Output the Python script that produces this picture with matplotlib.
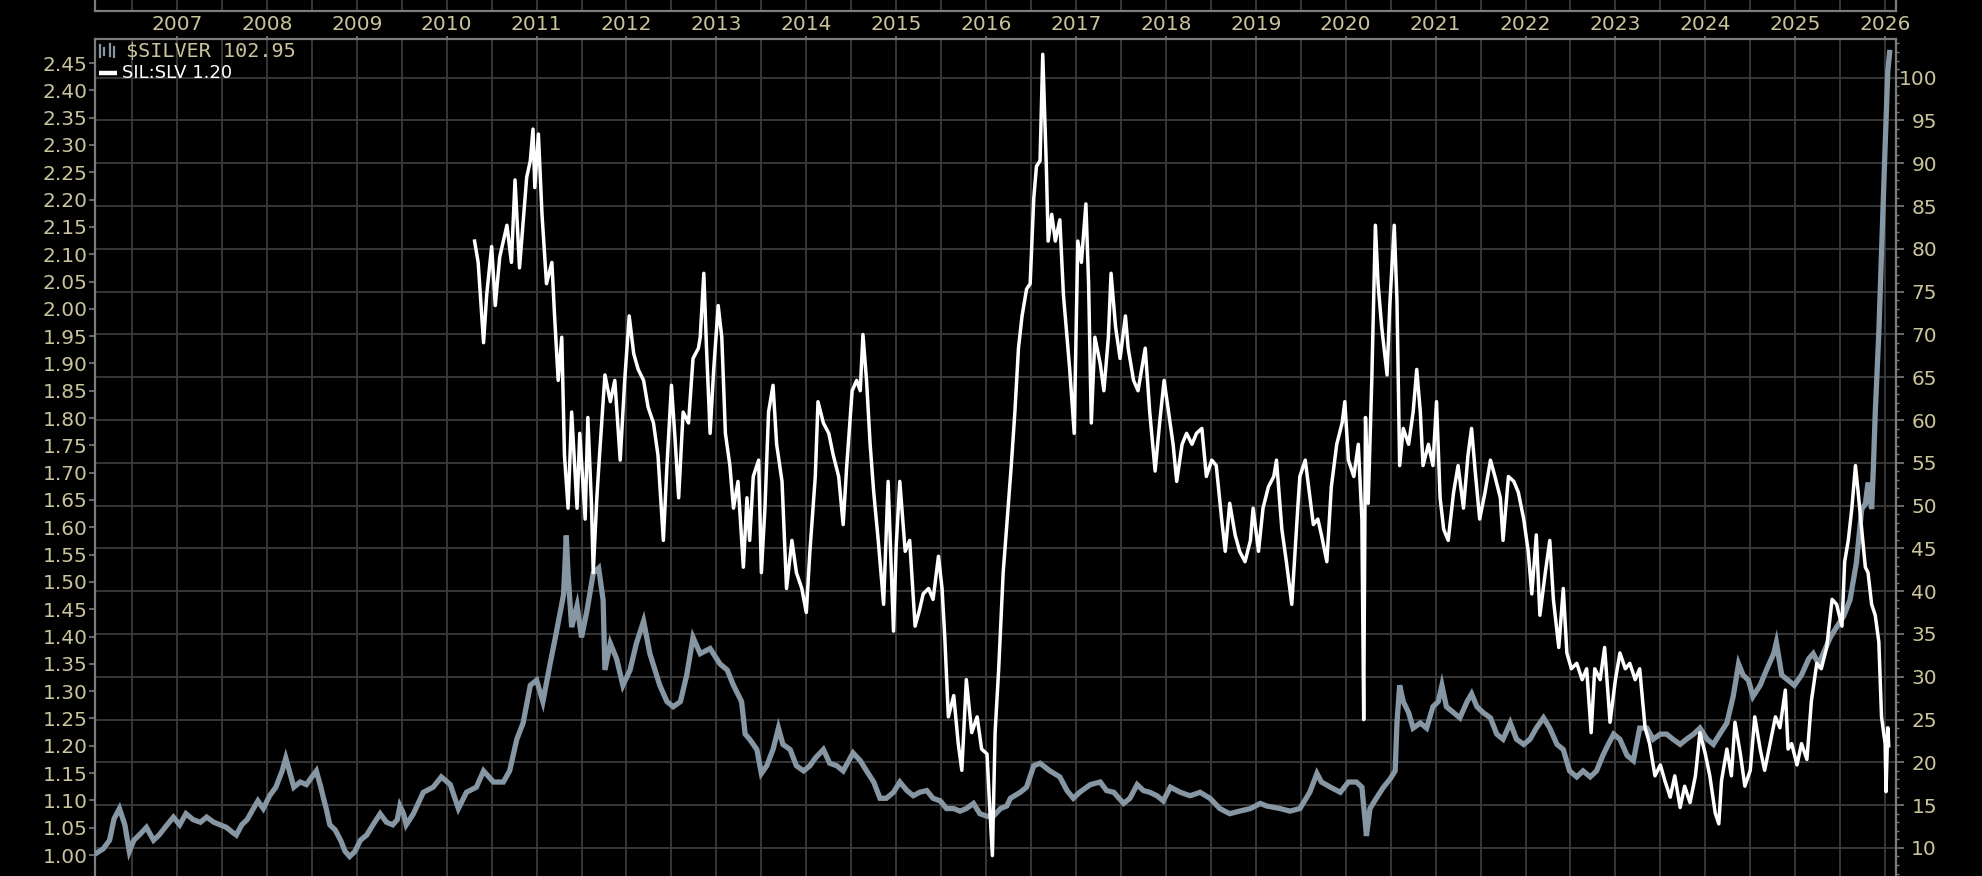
import matplotlib
matplotlib.use("Agg")
import matplotlib.pyplot as plt
from matplotlib.ticker import MultipleLocator
from matplotlib.lines import Line2D

# ---------------- data ----------------
silver_t = [2006.09, 2006.18, 2006.25, 2006.30, 2006.36, 2006.42, 2006.47, 2006.52, 2006.58, 2006.66,
            2006.74, 2006.80, 2006.89, 2006.96, 2007.03, 2007.10, 2007.18, 2007.26, 2007.33, 2007.41,
            2007.48, 2007.55, 2007.62, 2007.66, 2007.72, 2007.78, 2007.85, 2007.90, 2007.96, 2008.03,
            2008.10, 2008.17, 2008.21, 2008.25, 2008.30, 2008.37, 2008.44, 2008.50, 2008.55, 2008.60,
            2008.63, 2008.66, 2008.70, 2008.76, 2008.82, 2008.87, 2008.92, 2008.98, 2009.04, 2009.11,
            2009.18, 2009.26, 2009.33, 2009.40, 2009.45, 2009.48, 2009.52, 2009.55, 2009.63, 2009.74,
            2009.85, 2009.94, 2010.04, 2010.13, 2010.22, 2010.33, 2010.41, 2010.52, 2010.63, 2010.70,
            2010.78, 2010.85, 2010.93, 2011.00, 2011.07, 2011.15, 2011.22, 2011.30, 2011.33, 2011.35,
            2011.39, 2011.45, 2011.50, 2011.56, 2011.63, 2011.69, 2011.74, 2011.76, 2011.82, 2011.89,
            2011.96, 2012.04, 2012.11, 2012.19, 2012.26, 2012.37, 2012.45, 2012.52, 2012.60, 2012.67,
            2012.74, 2012.82, 2012.93, 2013.04, 2013.12, 2013.19, 2013.28, 2013.32, 2013.37, 2013.45,
            2013.50, 2013.56, 2013.63, 2013.69, 2013.74, 2013.82, 2013.89, 2013.97, 2014.04, 2014.10,
            2014.19, 2014.26, 2014.34, 2014.41, 2014.52, 2014.60, 2014.67, 2014.75, 2014.82, 2014.89,
            2014.97, 2015.04, 2015.12, 2015.19, 2015.26, 2015.34, 2015.41, 2015.49, 2015.56, 2015.64,
            2015.71, 2015.78, 2015.86, 2015.93, 2016.01, 2016.08, 2016.16, 2016.23, 2016.27, 2016.38,
            2016.45, 2016.53, 2016.60, 2016.71, 2016.82, 2016.90, 2016.97, 2017.04, 2017.16, 2017.27,
            2017.34, 2017.42, 2017.53, 2017.60, 2017.68, 2017.75, 2017.82, 2017.90, 2017.97, 2018.05,
            2018.16, 2018.27, 2018.38, 2018.49, 2018.60, 2018.71, 2018.82, 2018.94, 2019.05, 2019.12,
            2019.27, 2019.38, 2019.49, 2019.60, 2019.68, 2019.73, 2019.83, 2019.94, 2020.03, 2020.12,
            2020.18, 2020.22, 2020.23, 2020.27, 2020.34, 2020.42, 2020.49, 2020.55, 2020.57, 2020.60,
            2020.64, 2020.70, 2020.75, 2020.83, 2020.90, 2020.97, 2021.03, 2021.07, 2021.12, 2021.20,
            2021.27, 2021.35, 2021.40, 2021.46, 2021.53, 2021.61, 2021.68, 2021.75, 2021.83, 2021.90,
            2021.98, 2022.05, 2022.12, 2022.20, 2022.27, 2022.35, 2022.42, 2022.49, 2022.57, 2022.64,
            2022.72, 2022.79, 2022.86, 2022.92, 2022.98, 2023.05, 2023.13, 2023.20, 2023.27, 2023.35,
            2023.42, 2023.50, 2023.57, 2023.64, 2023.72, 2023.79, 2023.87, 2023.94, 2024.02, 2024.09,
            2024.16, 2024.24, 2024.31, 2024.37, 2024.42, 2024.48, 2024.53, 2024.61, 2024.68, 2024.76,
            2024.79, 2024.85, 2024.92, 2024.99, 2025.07, 2025.15, 2025.20, 2025.26, 2025.31, 2025.39,
            2025.46, 2025.54, 2025.61, 2025.68, 2025.74, 2025.78, 2025.81, 2025.85, 2025.87, 2025.89,
            2025.93, 2025.96, 2026.00, 2026.03, 2026.05]
silver_v = [9.3, 9.9, 10.9, 13.4, 14.6, 12.7, 9.6, 10.9, 11.5, 12.4,
            10.9, 11.5, 12.7, 13.6, 12.7, 14.0, 13.3, 13.0, 13.6, 13.0,
            12.7, 12.4, 11.8, 11.5, 12.7, 13.3, 14.6, 15.5, 14.6, 16.1,
            17.1, 19.0, 20.5, 19.0, 17.1, 17.7, 17.4, 18.3, 19.0, 17.1,
            15.8, 14.6, 12.7, 12.1, 10.9, 9.6, 9.0, 9.6, 10.9, 11.5,
            12.7, 14.0, 13.0, 12.7, 13.3, 14.9, 14.0, 12.7, 14.0, 16.5,
            17.1, 18.3, 17.4, 14.6, 16.5, 17.1, 19.0, 17.7, 17.7, 19.0,
            22.7, 24.6, 29.0, 29.6, 27.1, 31.5, 35.2, 39.6, 46.5, 42.0,
            35.8, 38.3, 34.6, 37.7, 42.1, 42.7, 39.0, 30.8, 33.9, 32.1,
            29.0, 30.8, 33.9, 36.5, 32.7, 29.0, 27.1, 26.5, 27.1, 30.2,
            34.6, 32.7, 33.3, 31.5, 30.8, 29.0, 27.1, 23.3, 22.7, 21.5,
            18.7, 19.6, 21.5, 24.0, 22.1, 21.5, 19.6, 19.0, 19.6, 20.5,
            21.5, 19.9, 19.6, 19.0, 21.1, 20.2, 19.0, 17.7, 15.8, 15.8,
            16.5, 17.7, 16.7, 16.1, 16.5, 16.7, 15.8, 15.5, 14.6, 14.6,
            14.3, 14.6, 15.2, 14.0, 13.7, 13.7, 14.6, 14.9, 15.8, 16.5,
            17.1, 19.6, 19.9, 19.0, 18.3, 16.7, 15.8, 16.5, 17.4, 17.7,
            16.7, 16.5, 15.2, 15.8, 17.4, 16.7, 16.5, 16.1, 15.5, 17.1,
            16.5, 16.1, 16.5, 15.8, 14.6, 14.0, 14.3, 14.6, 15.2, 14.9,
            14.6, 14.3, 14.6, 16.5, 18.7, 17.7, 17.1, 16.5, 17.7, 17.7,
            17.1, 12.7, 11.4, 14.6, 15.8, 17.1, 18.0, 19.0, 24.6, 29.0,
            27.1, 25.8, 24.0, 24.6, 24.0, 26.5, 27.1, 29.0, 26.5, 25.8,
            25.2, 27.1, 28.0, 26.5, 25.8, 25.2, 23.3, 22.7, 24.6, 22.7,
            22.1, 22.7, 24.0, 25.2, 24.0, 22.1, 21.5, 19.0, 18.3, 19.0,
            18.3, 19.0, 20.8, 22.1, 23.3, 22.7, 20.8, 20.2, 24.0, 24.0,
            22.7, 23.3, 23.3, 22.7, 22.1, 22.7, 23.3, 24.0, 22.7, 22.1,
            23.3, 24.6, 27.7, 31.5, 30.2, 29.6, 27.7, 29.0, 30.8, 32.7,
            34.0, 30.2, 29.6, 29.0, 30.2, 32.1, 32.7, 31.5, 32.7, 34.6,
            35.8, 37.1, 39.0, 43.3, 49.6, 50.2, 52.7, 49.6, 54.6, 60.8,
            70.2, 79.6, 92.0, 100.8, 102.95]

ratio_t = [2010.31, 2010.35, 2010.41, 2010.445, 2010.50, 2010.54, 2010.59, 2010.67, 2010.72, 2010.76,
           2010.81, 2010.89, 2010.93, 2010.96, 2010.98, 2011.02, 2011.06, 2011.11, 2011.17, 2011.20,
           2011.24, 2011.28, 2011.31, 2011.35, 2011.39, 2011.45, 2011.48, 2011.54, 2011.57, 2011.61,
           2011.63, 2011.67, 2011.70, 2011.76, 2011.82, 2011.87, 2011.93, 2011.98, 2012.03, 2012.08,
           2012.13, 2012.19, 2012.24, 2012.30, 2012.35, 2012.41, 2012.45, 2012.50, 2012.54, 2012.58,
           2012.63, 2012.69, 2012.74, 2012.80, 2012.82, 2012.86, 2012.89, 2012.93, 2012.97, 2013.02,
           2013.06, 2013.10, 2013.15, 2013.19, 2013.24, 2013.30, 2013.34, 2013.37, 2013.41, 2013.47,
           2013.50, 2013.54, 2013.58, 2013.63, 2013.67, 2013.73, 2013.78, 2013.84, 2013.89, 2013.95,
           2014.00, 2014.04, 2014.10, 2014.13, 2014.19, 2014.25, 2014.30, 2014.36, 2014.41, 2014.45,
           2014.51, 2014.56, 2014.60, 2014.63, 2014.67, 2014.71, 2014.75, 2014.80, 2014.86, 2014.91,
           2014.97, 2015.00, 2015.04, 2015.10, 2015.15, 2015.21, 2015.26, 2015.30, 2015.36, 2015.41,
           2015.47, 2015.51, 2015.54, 2015.58, 2015.64, 2015.69, 2015.73, 2015.78, 2015.84, 2015.90,
           2015.95, 2016.01, 2016.04, 2016.07, 2016.10, 2016.14, 2016.19, 2016.23, 2016.28, 2016.32,
           2016.36, 2016.40, 2016.45, 2016.49, 2016.53, 2016.56, 2016.60, 2016.63, 2016.67, 2016.69,
           2016.73, 2016.77, 2016.82, 2016.86, 2016.90, 2016.93, 2016.98, 2017.02, 2017.06, 2017.11,
           2017.14, 2017.17, 2017.21, 2017.27, 2017.31, 2017.36, 2017.39, 2017.44, 2017.49, 2017.55,
           2017.58, 2017.64, 2017.69, 2017.73, 2017.77, 2017.82, 2017.88, 2017.93, 2017.98, 2018.03,
           2018.08, 2018.12, 2018.18, 2018.23, 2018.29, 2018.34, 2018.40, 2018.45, 2018.51, 2018.56,
           2018.62, 2018.66, 2018.71, 2018.77, 2018.82, 2018.88, 2018.94, 2018.97, 2019.03, 2019.08,
           2019.14, 2019.20, 2019.23, 2019.29, 2019.34, 2019.40, 2019.44, 2019.47, 2019.49, 2019.55,
           2019.58, 2019.64, 2019.69, 2019.73, 2019.79, 2019.84, 2019.90, 2019.96, 2019.99, 2020.03,
           2020.09, 2020.14, 2020.18, 2020.20, 2020.22, 2020.25, 2020.29, 2020.33, 2020.36, 2020.40,
           2020.46, 2020.49, 2020.54, 2020.57, 2020.60, 2020.64, 2020.70, 2020.75, 2020.79, 2020.83,
           2020.86, 2020.92, 2020.97, 2021.01, 2021.05, 2021.09, 2021.14, 2021.20, 2021.25, 2021.31,
           2021.36, 2021.40, 2021.44, 2021.49, 2021.55, 2021.61, 2021.66, 2021.72, 2021.75, 2021.81,
           2021.87, 2021.92, 2021.98, 2022.03, 2022.07, 2022.12, 2022.16, 2022.22, 2022.27, 2022.31,
           2022.37, 2022.42, 2022.46, 2022.51, 2022.57, 2022.63, 2022.68, 2022.73, 2022.77, 2022.83,
           2022.88, 2022.94, 2023.00, 2023.05, 2023.11, 2023.16, 2023.22, 2023.27, 2023.33, 2023.38,
           2023.44, 2023.50, 2023.55, 2023.61, 2023.66, 2023.72, 2023.77, 2023.83, 2023.89, 2023.94,
           2024.00, 2024.05, 2024.11, 2024.15, 2024.18, 2024.24, 2024.29, 2024.33, 2024.39, 2024.44,
           2024.50, 2024.55, 2024.61, 2024.66, 2024.72, 2024.78, 2024.83, 2024.89, 2024.92, 2024.96,
           2025.02, 2025.07, 2025.13, 2025.18, 2025.24, 2025.29, 2025.35, 2025.41, 2025.46, 2025.52,
           2025.55, 2025.59, 2025.63, 2025.67, 2025.70, 2025.74, 2025.78, 2025.81, 2025.85, 2025.89,
           2025.93, 2025.96, 2026.00, 2026.01, 2026.03, 2026.04]
ratio_v = [2.124, 2.085, 1.938, 2.026, 2.114, 2.006, 2.095, 2.153, 2.085, 2.236,
           2.075, 2.241, 2.271, 2.329, 2.222, 2.320, 2.173, 2.046, 2.085, 1.987,
           1.869, 1.948, 1.732, 1.635, 1.811, 1.635, 1.772, 1.615, 1.801, 1.644,
           1.517, 1.654, 1.732, 1.879, 1.830, 1.869, 1.723, 1.869, 1.987, 1.918,
           1.889, 1.869, 1.820, 1.791, 1.732, 1.576, 1.713, 1.860, 1.762, 1.654,
           1.811, 1.791, 1.909, 1.928, 1.948, 2.065, 1.928, 1.772, 1.889, 2.006,
           1.948, 1.772, 1.713, 1.635, 1.684, 1.527, 1.654, 1.576, 1.693, 1.723,
           1.517, 1.635, 1.811, 1.860, 1.752, 1.684, 1.488, 1.576, 1.517, 1.488,
           1.444, 1.556, 1.693, 1.830, 1.791, 1.772, 1.732, 1.693, 1.605, 1.713,
           1.850, 1.869, 1.850, 1.953, 1.869, 1.752, 1.664, 1.576, 1.459, 1.684,
           1.410, 1.566, 1.684, 1.556, 1.576, 1.419, 1.449, 1.478, 1.488, 1.468,
           1.547, 1.488, 1.400, 1.253, 1.292, 1.204, 1.155, 1.321, 1.224, 1.253,
           1.194, 1.185, 1.087, 0.999, 1.224, 1.341, 1.517, 1.605, 1.713, 1.811,
           1.928, 1.987, 2.036, 2.046, 2.202, 2.261, 2.271, 2.466, 2.261, 2.124,
           2.173, 2.124, 2.163, 2.026, 1.948, 1.889, 1.772, 2.124, 2.085, 2.192,
           2.046, 1.791, 1.948, 1.899, 1.850, 1.948, 2.065, 1.967, 1.909, 1.987,
           1.928, 1.869, 1.850, 1.889, 1.928, 1.811, 1.703, 1.791, 1.869, 1.811,
           1.752, 1.684, 1.752, 1.772, 1.752, 1.772, 1.781, 1.693, 1.723, 1.713,
           1.615, 1.556, 1.644, 1.586, 1.556, 1.537, 1.576, 1.635, 1.556, 1.635,
           1.674, 1.693, 1.723, 1.596, 1.537, 1.459, 1.566, 1.644, 1.693, 1.723,
           1.684, 1.605, 1.615, 1.586, 1.537, 1.674, 1.752, 1.791, 1.830, 1.723,
           1.693, 1.752, 1.615, 1.248, 1.801, 1.644, 1.869, 2.153, 2.046, 1.967,
           1.879, 2.006, 2.153, 2.016, 1.713, 1.781, 1.752, 1.811, 1.889, 1.811,
           1.713, 1.752, 1.713, 1.830, 1.654, 1.596, 1.576, 1.664, 1.713, 1.635,
           1.732, 1.781, 1.703, 1.615, 1.664, 1.723, 1.693, 1.654, 1.576, 1.693,
           1.684, 1.664, 1.615, 1.556, 1.478, 1.586, 1.439, 1.517, 1.576, 1.468,
           1.380, 1.488, 1.370, 1.341, 1.351, 1.321, 1.341, 1.224, 1.341, 1.321,
           1.380, 1.243, 1.321, 1.370, 1.341, 1.351, 1.321, 1.341, 1.233, 1.204,
           1.145, 1.165, 1.136, 1.106, 1.145, 1.087, 1.126, 1.096, 1.145, 1.224,
           1.185, 1.145, 1.077, 1.057, 1.136, 1.194, 1.145, 1.243, 1.185, 1.126,
           1.155, 1.253, 1.194, 1.155, 1.204, 1.253, 1.233, 1.302, 1.194, 1.204,
           1.165, 1.204, 1.175, 1.282, 1.351, 1.341, 1.380, 1.468, 1.459, 1.419,
           1.537, 1.576, 1.635, 1.713, 1.664, 1.596, 1.527, 1.517, 1.459, 1.439,
           1.390, 1.253, 1.204, 1.116, 1.233, 1.20]

year_ticks = [2007, 2008, 2009, 2010, 2011, 2012, 2013, 2014, 2015, 2016,
              2017, 2018, 2019, 2020, 2021, 2022, 2023, 2024, 2025, 2026]
year_labels = [str(y) for y in year_ticks]
left_ticks = [1.00, 1.05, 1.10, 1.15, 1.20, 1.25, 1.30, 1.35, 1.40, 1.45,
              1.50, 1.55, 1.60, 1.65, 1.70, 1.75, 1.80, 1.85, 1.90, 1.95,
              2.00, 2.05, 2.10, 2.15, 2.20, 2.25, 2.30, 2.35, 2.40, 2.45]
left_labels = ["%.2f" % v for v in left_ticks]
right_ticks = [10, 15, 20, 25, 30, 35, 40, 45, 50, 55, 60, 65, 70, 75, 80, 85, 90, 95, 100]
right_labels = [str(v) for v in right_ticks]
silver_label = "$SILVER 102.95"
ratio_label = "SIL:SLV 1.20"

# ---------------- style ----------------
W, H = 1982, 876
BG = "#000000"
GRID = "#3b3b3b"
BORDER = "#7c7c7c"
TXT = "#c9c49c"
SILVER_C = "#8696a2"
RATIO_C = "#ffffff"
FS = 14.5

fig = plt.figure(figsize=(W / 100, H / 100), dpi=100, facecolor=BG)

x0, x1 = 95, 1896
ytop = 38.5
xmin, xmax = 2006.088, 2026.121

# main axes: silver (right scale), holds grid
ax = fig.add_axes([x0 / W, 0.0, (x1 - x0) / W, (H - ytop) / H])
ax.set_facecolor(BG)
ax.plot(silver_t, silver_v, color=SILVER_C, lw=3.8, solid_joinstyle="miter", zorder=3)
ax.set_xlim(xmin, xmax)
ax.set_ylim(6.72, 104.58)

axL = ax.twinx()
axL.plot(ratio_t, ratio_v, color=RATIO_C, lw=2.5, zorder=4)
axL.set_ylim(0.9616, 2.4949)
axL.set_xlim(xmin, xmax)

# right axis (silver)
ax.yaxis.tick_right()
ax.set_yticks(right_ticks)
ax.set_yticklabels(right_labels)
ax.yaxis.set_minor_locator(MultipleLocator(1))
ax.tick_params(axis="y", which="major", direction="out", length=5.5, width=1.2,
               color=BORDER, labelcolor=TXT, labelsize=FS, pad=24,
               left=False, labelleft=False, right=True, labelright=True)
ax.tick_params(axis="y", which="minor", direction="out", length=2.5, width=1.0,
               color=BORDER, left=False, right=True)
for lab in ax.get_yticklabels():
    lab.set_horizontalalignment("right")
    lab.set_fontfamily("DejaVu Sans")

# left axis (ratio)
axL.yaxis.tick_left()
axL.set_yticks(left_ticks)
axL.set_yticklabels(left_labels)
axL.tick_params(axis="y", which="major", direction="out", length=4.5, width=1.2,
                color=BORDER, labelcolor=TXT, labelsize=FS, pad=1,
                left=True, labelleft=True, right=False, labelright=False)
for s in axL.spines.values():
    s.set_visible(False)

# top x axis with year labels
ax.xaxis.tick_top()
ax.set_xticks(year_ticks)
ax.set_xticklabels(year_labels)
ax.set_xticks([y - 0.5 for y in year_ticks], minor=True)
ax.tick_params(axis="x", which="major", direction="out", length=2.5, width=1.2,
               color=BORDER, labelcolor=TXT, labelsize=FS, pad=1.0,
               top=True, labeltop=True, bottom=False, labelbottom=False)
ax.tick_params(axis="x", which="minor", length=0, top=False, bottom=False)

ax.grid(True, which="major", axis="both", color=GRID, lw=1.3)
ax.grid(True, which="minor", axis="x", color=GRID, lw=1.3)
ax.set_axisbelow(True)

for name, s in ax.spines.items():
    s.set_color(BORDER)
    s.set_linewidth(1.6)
ax.spines["bottom"].set_visible(False)

# strip of the panel above
ax_s = fig.add_axes([x0 / W, 1 - 10.5 / H, (x1 - x0) / W, 0.05])
ax_s.set_facecolor(BG)
ax_s.set_xlim(xmin, xmax)
ax_s.set_ylim(0, 1)
ax_s.set_xticks(year_ticks)
ax_s.set_xticks([y - 0.5 for y in year_ticks], minor=True)
ax_s.set_yticks([])
ax_s.tick_params(axis="x", which="both", length=0, labelbottom=False, labeltop=False)
ax_s.grid(True, which="both", axis="x", color=GRID, lw=1.3)
for name, s in ax_s.spines.items():
    s.set_color(BORDER)
    s.set_linewidth(1.6)
ax_s.spines["top"].set_visible(False)

# legend
def fx(px):
    return px / W

def fy(py):
    return 1 - py / H

for xa, ya, yb in [(100, 45, 57), (104, 48, 55), (110, 44, 56), (114, 47, 57)]:
    fig.add_artist(Line2D([fx(xa), fx(xa)], [fy(ya), fy(yb)], color=SILVER_C, lw=1.6))
fig.add_artist(Line2D([fx(99), fx(117)], [fy(73), fy(73)], color=RATIO_C, lw=3.2,
                      solid_capstyle="butt"))
fig.text(fx(126), fy(51), silver_label, color=TXT, fontsize=14.5,
         family="DejaVu Sans Mono", ha="left", va="center")
fig.text(fx(122), fy(73.5), ratio_label, color=RATIO_C, fontsize=13,
         family="DejaVu Sans", ha="left", va="center")

fig.savefig("out.png", dpi=100, facecolor=BG)
